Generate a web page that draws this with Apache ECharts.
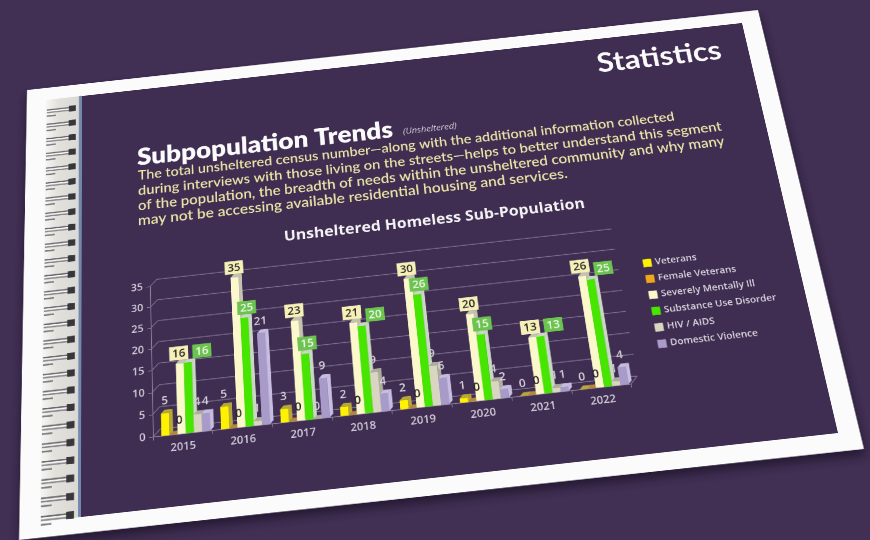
<!DOCTYPE html>
<html><head><meta charset="utf-8">
<style>html,body{margin:0;padding:0;width:870px;height:540px;overflow:hidden;background:#412f54}
#stage{position:absolute;left:0;top:0;width:1200px;height:800px;transform-origin:0 0;filter:blur(0.55px)}</style>
<script src="https://cdn.jsdelivr.net/npm/echarts@6/dist/echarts.min.js"></script>
</head><body><div id="stage"></div>
<script>
const years=['2015','2016','2017','2018','2019','2020','2021','2022'];
const veterans=[5,5,3,2,2,1,0,0];
const femaleVeterans=[0,0,0,0,0,0,0,0];
const severelyMentallyIll=[16,35,23,21,30,20,13,26];
const substanceUseDisorder=[16,25,15,20,26,15,13,25];
const hivAids=[4,1,0,9,9,4,1,1];
const domesticViolence=[4,21,9,4,6,2,1,4];
const yTicks=[0,5,10,15,20,25,30,35];
const bodyLines=[
 'The total unsheltered census number\u2014along with the additional information collected',
 'during interviews with those living on the streets\u2014helps to better understand this segment',
 'of the population, the breadth of needs within the unsheltered community and why many',
 'may not be accessing available residential housing and services.'];

// perspective of the photographed page
function solve(src,dst){
  const A=[];
  for(let i=0;i<4;i++){const [u,v]=src[i],[x,y]=dst[i];
    A.push([u,v,1,0,0,0,-u*x,-v*x,x]);A.push([0,0,0,u,v,1,-u*y,-v*y,y]);}
  for(let c=0;c<8;c++){let p=c;for(let r=c+1;r<8;r++)if(Math.abs(A[r][c])>Math.abs(A[p][c]))p=r;
    [A[c],A[p]]=[A[p],A[c]];
    for(let r=0;r<8;r++){if(r===c)continue;const f=A[r][c]/A[c][c];for(let k=c;k<9;k++)A[r][k]-=f*A[c][k];}}
  const h=[];for(let i=0;i<8;i++)h.push(A[i][8]/A[i][i]);h.push(1);return h;
}
const flatQ=[[120,60],[1120,60],[1120,700],[120,700]];
const shotQ=[[82,96],[742,23],[838,433],[81,517]];
const H=solve(flatQ,shotQ), Hi=solve(shotQ,flatQ);
function P(x,y){const w=Hi[6]*x+Hi[7]*y+1;return [(Hi[0]*x+Hi[1]*y+Hi[2])/w,(Hi[3]*x+Hi[4]*y+Hi[5])/w];}
const stage=document.getElementById('stage');
stage.style.transform='matrix3d('+[H[0],H[3],0,H[6],H[1],H[4],0,H[7],0,0,1,0,H[2],H[5],0,1].join(',')+')';

const chart=echarts.init(stage,null,{devicePixelRatio:2,width:1200,height:800});

const PAGE='#3f2d52';
const colors={vet:'#fff200',fem:'#f0a818',smi:'#fbf9cc',sud:'#46e600',hiv:'#d8d5c0',dv:'#a99bc9'};
const sideCols=['#b8a838','#b8863a','#c4c2b0','#c9d8c4','#aeac9c','#c7bde0'];
const GROUP=6, DEPTH=5;
function barItem(idx,labelStyle){
  return function(params,api){
    const cat=api.value(0),val=api.value(1);
    const base=api.coord([cat,0]),top=api.coord([cat,val]);
    const band=api.size([1,0])[0];
    const bw=band*0.82/GROUP;
    const x=base[0]-band*0.36+idx*bw;
    const yb=base[1],yt=top[1];
    const col=api.visual('color');
    const side=sideCols[idx];
    const ch=[];
    ch.push({type:'polygon',shape:{points:[[x+bw,yt],[x+bw+DEPTH,yt-DEPTH],[x+bw+DEPTH,yb-DEPTH],[x+bw,yb]]},style:{fill:side}});
    ch.push({type:'polygon',shape:{points:[[x,yt],[x+DEPTH,yt-DEPTH],[x+bw+DEPTH,yt-DEPTH],[x+bw,yt]]},style:{fill:side}});
    if(val>0)ch.push({type:'rect',shape:{x:x,y:yt,width:bw,height:yb-yt},style:{fill:col}});
    const ls=labelStyle(cat,val);
    ch.push({type:'text',z2:50,style:Object.assign({text:String(val),x:x+bw/2+(ls.dx||0),y:yt-DEPTH-(ls.gap==null?4:ls.gap),align:'center',verticalAlign:'bottom',font:'600 '+(ls.size||16)+'px "Open Sans"',fill:ls.fill},ls.extra||{})});
    return {type:'group',children:ch};
  };
}
function close(c){return Math.abs(severelyMentallyIll[c]-substanceUseDisorder[c])<=1;}
const plain=c=>()=>({fill:c});
const seriesDefs=[
 ['Veterans',veterans,colors.vet,plain('#d8d4dc')],
 ['Female Veterans',femaleVeterans,colors.fem,()=>({fill:'#26202c',gap:6,dx:8})],
 ['Severely Mentally Ill',severelyMentallyIll,colors.smi,(c)=>({fill:'#2d2a28',size:16,dx:close(c)?-1:0,gap:0,extra:{backgroundColor:'#f6f0b8',padding:[3,4,1,4]}})],
 ['Substance Use Disorder',substanceUseDisorder,colors.sud,(c)=>({fill:'#f2f6ea',size:16,dx:close(c)?20:4,gap:0,extra:{backgroundColor:'#6cc450',padding:[3,4,1,4]}})],
 ['HIV / AIDS',hivAids,colors.hiv,plain('#cfcbd0')],
 ['Domestic Violence',domesticViolence,colors.dv,plain('#d8d4dc')]
];
function zipCat(a){return a.map((v,i)=>[i,v]);}
const series=seriesDefs.map((d,i)=>({
  type:'custom',name:d[0],coordinateSystem:'cartesian2d',clip:false,z:5,
  renderItem:barItem(i,d[3]),itemStyle:{color:d[2]},data:zipCat(d[1]),encode:{x:0,y:1},animation:false
}));
// back wall and side wall gridlines
series.unshift({
  type:'custom',coordinateSystem:'cartesian2d',silent:true,clip:false,z:2,animation:false,
  renderItem:function(params,api){
    const v=api.value(1),cs=params.coordSys,y=api.coord([0,v])[1];
    const d=10,st={stroke:'#7e748c',lineWidth:1.2};
    const ch=[
      {type:'line',shape:{x1:cs.x,y1:y,x2:cs.x+d,y2:y-d},style:st},
      {type:'line',shape:{x1:cs.x+d,y1:y-d,x2:cs.x+cs.width+d,y2:y-d},style:st}];
    if(v===0)ch.push({type:'line',shape:{x1:cs.x+cs.width,y1:y,x2:cs.x+cs.width+d,y2:y-d},style:st});
    return {type:'group',children:ch};
  },
  data:yTicks.map((v)=>[0,v]),encode:{x:0,y:1}
});

// grid placed from the reference
const g0=P(153,437),g1=P(631,384),g2=P(151,286.5);
const grid={left:g0[0],top:g2[1],width:g1[0]-g0[0],height:((g0[1]+g1[1])/2)-g2[1]};

// page furniture
const furniture=[];
function poly(pts,style,extra){furniture.push(Object.assign({type:'polygon',shape:{points:pts.map(p=>P(p[0],p[1]))},style:style,silent:true},extra||{}));}
poly([[27,90],[758,10],[864,449],[19,540]],{fill:'#fbfbfb',shadowBlur:14,shadowColor:'rgba(20,12,30,0.65)',shadowOffsetY:8},{z:-10});
poly([[82,96],[742,23],[838,433],[81,517]],{fill:PAGE},{z:-9});
poly([[46,100],[81,96],[81,517],[40,522]],{fill:new echarts.graphic.LinearGradient(0,0,1,0,[{offset:0,color:'#f6f6f4'},{offset:0.35,color:'#e2e1dc'},{offset:1,color:'#d9d8d4'}])},{z:-9});
poly([[79,96],[82,96],[81,517],[78,517]],{fill:'#7388ad'},{z:-8});
// spiral binding
const ringCount=26;
const rx0=P(44,300)[0],rx1=P(75,300)[0],ry0=P(60,108)[1],ry1=P(60,514)[1];
for(let i=0;i<ringCount;i++){
  const y=ry0+(ry1-ry0)*i/(ringCount-1);
  const L=rx1-rx0;
  furniture.push({type:'rect',silent:true,z:-7,shape:{x:rx0,y:y,width:L*0.80,height:2.2},style:{fill:'#6b6a6e'}});
  furniture.push({type:'rect',silent:true,z:-7,shape:{x:rx0,y:y+2.2,width:L*0.80,height:2.4},style:{fill:'#f4f4f2'}});
  furniture.push({type:'rect',silent:true,z:-7,shape:{x:rx0,y:y+4.6,width:L*0.80,height:2.2},style:{fill:'#88878b'}});
  furniture.push({type:'rect',silent:true,z:-7,shape:{x:rx0+L*0.76,y:y-2,width:L*0.24,height:10},style:{fill:'#37363a'}});
  furniture.push({type:'rect',silent:true,z:-7,shape:{x:rx0,y:y+10.5,width:L*0.32,height:2.4},style:{fill:'#7c7b80'}});
}
function txt(text,sx,sy,font,fill){const p=P(sx,sy);
  furniture.push({type:'text',silent:true,z:10,style:{text:text,x:p[0],y:p[1],font:font,fill:fill,align:'left',verticalAlign:'middle'}});}
const BODY='#ebe4a6';
txt('Statistics',597,64,'700 46px Lato','#fbfbfb');
txt('Subpopulation Trends',137,158,'800 38.5px Lato','#fbfbfb');
txt('(Unsheltered)',403,132,'italic 400 13.5px "Open Sans"','#d8d4dc');
const by=[176,191,206,221],bs=[20.9,21.4,21.7,22.3];
bodyLines.forEach((t,i)=>txt(t,138,by[i],'600 '+bs[i]+'px Lato',BODY));
txt('Unsheltered Homeless Sub-Population',284,237,'700 22.5px "Open Sans"','#f4f4f4');

const lg=P(638,256);
chart.setOption({
  animation:false,
  backgroundColor:'transparent',
  graphic:{elements:furniture},
  legend:{left:lg[0],top:lg[1],orient:'vertical',itemWidth:12,itemHeight:12,itemGap:10,icon:'rect',
    textStyle:{color:'#dcd8e0',fontFamily:'"Open Sans"',fontSize:13.5,fontWeight:600},
    data:seriesDefs.map(d=>d[0])},
  grid:grid,
  xAxis:{type:'category',data:years,boundaryGap:true,
    axisLine:{lineStyle:{color:'#8d8498',width:1.2}},axisTick:{show:true,alignWithLabel:false,lineStyle:{color:'#8d8498'}},
    axisLabel:{color:'#d2cdd8',fontFamily:'"Open Sans"',fontWeight:600,fontSize:15,margin:11},splitLine:{show:false}},
  yAxis:{type:'value',min:0,max:35,interval:5,
    axisLine:{show:true,lineStyle:{color:'#8d8498',width:1.2}},axisTick:{show:true,lineStyle:{color:'#8d8498'}},
    axisLabel:{color:'#d2cdd8',fontFamily:'"Open Sans"',fontWeight:600,fontSize:15,margin:10},splitLine:{show:false}},
  series:series
});
</script></body></html>
